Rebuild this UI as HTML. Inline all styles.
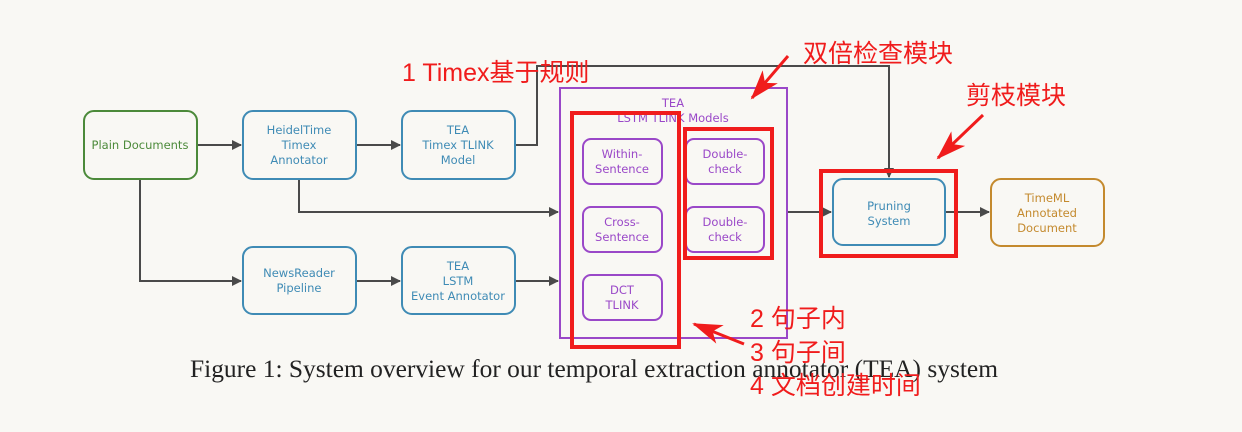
<!DOCTYPE html>
<html><head><meta charset="utf-8"><style>
html,body{margin:0;padding:0;background:#f9f8f4;}
svg{display:block}
text{font-family:"DejaVu Sans","Liberation Sans",sans-serif;}
.n{font-size:11.5px;text-anchor:middle}
.r{font-family:"Liberation Sans","Noto Sans CJK SC",sans-serif;fill:#f01c1c;font-size:25px}
</style></head><body>
<svg width="1242" height="432" viewBox="0 0 1242 432" xmlns="http://www.w3.org/2000/svg">
<defs><marker id="a" markerWidth="10" markerHeight="10" refX="9" refY="5" orient="auto" markerUnits="userSpaceOnUse"><path d="M0,0 L10,5 L0,10 z" fill="#4a4a4a"/></marker>
<marker id="ra" markerWidth="30" markerHeight="30" refX="28" refY="15" orient="auto" markerUnits="userSpaceOnUse"><path d="M0,5 L30,15 L0,25 L8,15 z" fill="#f01c1c"/></marker></defs>
<rect width="1242" height="432" fill="#f9f8f4"/>
<g stroke="#4a4a4a" stroke-width="2" fill="none">
<path d="M197,145 H241" marker-end="url(#a)"/>
<path d="M356,145 H400" marker-end="url(#a)"/>
<path d="M515,145 H537 V66 H889 V177" marker-end="url(#a)"/>
<path d="M299,179 V212 H558" marker-end="url(#a)"/>
<path d="M140,179 V281 H241" marker-end="url(#a)"/>
<path d="M356,281 H400" marker-end="url(#a)"/>
<path d="M515,281 H558" marker-end="url(#a)"/>
<path d="M787,212 H831" marker-end="url(#a)"/>
<path d="M945,212 H989" marker-end="url(#a)"/>
</g>
<g stroke-width="2" fill="#f9f8f4">
<rect x="84" y="111" width="113" height="68" rx="10" stroke="#4c8a3a"/>
<rect x="243" y="111" width="113" height="68" rx="10" stroke="#3f8bb5"/>
<rect x="402" y="111" width="113" height="68" rx="10" stroke="#3f8bb5"/>
<rect x="243" y="247" width="113" height="67" rx="10" stroke="#3f8bb5"/>
<rect x="402" y="247" width="113" height="67" rx="10" stroke="#3f8bb5"/>
<rect x="560" y="88" width="227" height="250" fill="none" stroke="#9a48c8"/>
<rect x="583" y="139" width="79" height="45" rx="8" stroke="#9a48c8"/>
<rect x="583" y="207" width="79" height="45" rx="8" stroke="#9a48c8"/>
<rect x="583" y="275" width="79" height="45" rx="8" stroke="#9a48c8"/>
<rect x="686" y="139" width="78" height="45" rx="8" stroke="#9a48c8"/>
<rect x="686" y="207" width="78" height="45" rx="8" stroke="#9a48c8"/>
<rect x="833" y="179" width="112" height="66" rx="10" stroke="#3f8bb5"/>
<rect x="991" y="179" width="113" height="67" rx="10" stroke="#c48a2e"/>
</g>
<g class="n" fill="#4c8a3a"><text x="140" y="149">Plain Documents</text></g>
<g class="n" fill="#3f8bb5">
<text x="299" y="134">HeidelTime</text><text x="299" y="149">Timex</text><text x="299" y="164">Annotator</text>
<text x="458" y="134">TEA</text><text x="458" y="149">Timex TLINK</text><text x="458" y="164">Model</text>
<text x="299" y="277">NewsReader</text><text x="299" y="292">Pipeline</text>
<text x="458" y="270">TEA</text><text x="458" y="285">LSTM</text><text x="458" y="300">Event Annotator</text>
<text x="889" y="210">Pruning</text><text x="889" y="225">System</text>
</g>
<g class="n" fill="#c48a2e"><text x="1047" y="202">TimeML</text><text x="1047" y="217">Annotated</text><text x="1047" y="232">Document</text></g>
<g class="n" fill="#9a48c8">
<text x="673" y="107">TEA</text><text x="673" y="122">LSTM TLINK Models</text>
<text x="622" y="158">Within-</text><text x="622" y="173">Sentence</text>
<text x="622" y="226">Cross-</text><text x="622" y="241">Sentence</text>
<text x="622" y="294">DCT</text><text x="622" y="309">TLINK</text>
<text x="725" y="158">Double-</text><text x="725" y="173">check</text>
<text x="725" y="226">Double-</text><text x="725" y="241">check</text>
</g>
<g fill="none" stroke="#f01c1c" stroke-width="4">
<rect x="572" y="113" width="107" height="234"/>
<rect x="685" y="129" width="87" height="129"/>
<rect x="821" y="171" width="135" height="85"/>
</g>
<g stroke="#f01c1c" stroke-width="3" fill="none">
<path d="M788,56 L752,98" marker-end="url(#ra)"/>
<path d="M983,115 L938,158" marker-end="url(#ra)"/>
<path d="M744,344 L694,324" marker-end="url(#ra)"/>
</g>
<text x="190" y="377" textLength="808" lengthAdjust="spacingAndGlyphs" style="font-family:'Liberation Serif',serif;font-size:25px" fill="#222">Figure 1: System overview for our temporal extraction annotator (TEA) system</text>
<text class="r" x="402" y="81">1 Timex基于规则</text>
<text class="r" x="803" y="62">双倍检查模块</text>
<text class="r" x="966" y="104">剪枝模块</text>
<text class="r" x="750" y="327">2 句子内</text>
<text class="r" x="750" y="361">3 句子间</text>
<text class="r" x="750" y="394">4 文档创建时间</text>
</svg>
</body></html>
